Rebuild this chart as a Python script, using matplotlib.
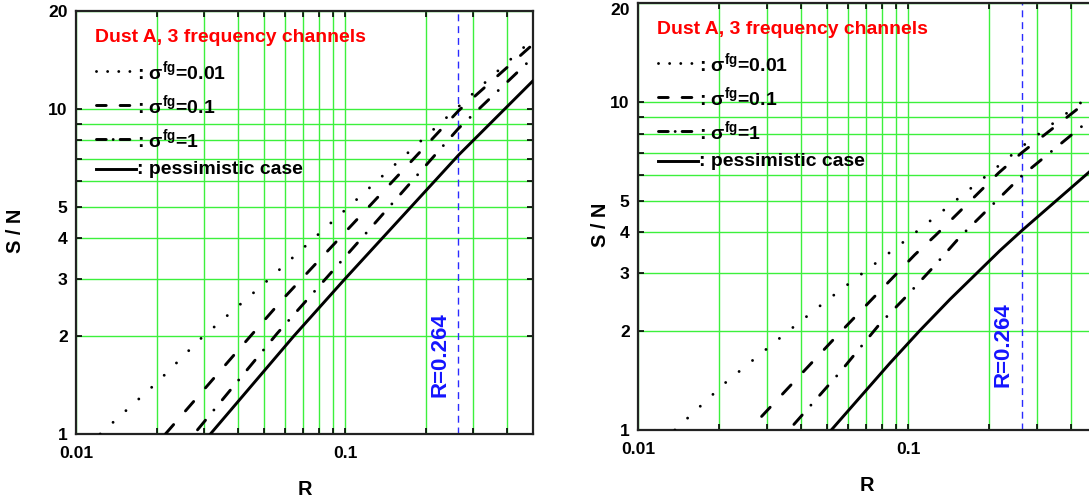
import matplotlib
matplotlib.use("Agg")
import matplotlib.pyplot as plt
from matplotlib import font_manager
from matplotlib.ticker import FixedFormatter, FixedLocator, NullFormatter

# %% data: (R, S/N) for each curve
# left panel
r_dot_a = [0.0123, 0.02, 0.029, 0.05, 0.106, 0.264, 0.5]
sn_dot_a = [1.0, 1.44, 1.96, 2.9, 5.1, 10.15, 16.4]
r_dash_a = [0.0215, 0.041, 0.059, 0.1035, 0.264, 0.5]
sn_dash_a = [1.0, 1.85, 2.61, 4.3, 9.86, 15.8]
r_dd_a = [0.0283, 0.056, 0.103, 0.264, 0.5]
sn_dd_a = [1.03, 2.04, 3.6, 8.7, 14.4]
r_sol_a = [0.0316, 0.0645, 0.1, 0.264, 0.5]
sn_sol_a = [1.0, 2.0, 3.0, 7.2, 12.2]

# right panel
r_dot_b = [0.0137, 0.021, 0.036, 0.05, 0.095, 0.131, 0.204, 0.264, 0.434, 0.5]
sn_dot_b = [1.0, 1.39, 2.0, 2.48, 3.71, 4.57, 6.13, 7.3, 9.9, 10.7]
r_dash_b = [0.0287, 0.0537, 0.0738, 0.106, 0.1266, 0.217, 0.264, 0.459, 0.5]
sn_dash_b = [1.1, 1.91, 2.51, 3.42, 3.92, 6.08, 7.0, 10.0, 10.6]
r_dd_b = [0.0378, 0.056, 0.0788, 0.098, 0.123, 0.156, 0.264, 0.468, 0.5]
sn_dd_b = [1.04, 1.5, 2.11, 2.54, 3.11, 3.88, 5.95, 8.77, 9.2]
r_sol_b = [0.052, 0.0858, 0.1107, 0.143, 0.219, 0.264, 0.468, 0.5]
sn_sol_b = [1.0, 1.6, 2.01, 2.5, 3.52, 4.05, 6.1, 6.4]

r_mark = 0.264
title = "Dust A, 3 frequency channels"
labels = [
    r": $\sigma^{\mathbf{fg}}$=0.01",
    r": $\sigma^{\mathbf{fg}}$=0.1",
    r": $\sigma^{\mathbf{fg}}$=1",
    ": pessimistic case",
]
x_major = [0.01, 0.1]
x_major_labels = ["0.01", "0.1"]
x_minor = [0.02, 0.03, 0.04, 0.05, 0.06, 0.07, 0.08, 0.09, 0.2, 0.3, 0.4]
y_major = [1, 2, 3, 4, 5, 10, 20]
y_major_labels = ["1", "2", "3", "4", "5", "10", "20"]
y_minor = [6, 7, 8, 9]

# %% fonts (the original uses a narrow bold face)
names = {f.name for f in font_manager.fontManager.ttflist}
if "Liberation Sans Narrow" in names:
    family, k = "Liberation Sans Narrow", 1.0
else:
    family, k = "Liberation Sans", 0.9
plt.rcParams["font.family"] = [family, "DejaVu Sans"]
plt.rcParams["font.weight"] = "bold"
plt.rcParams["mathtext.fontset"] = "custom"
plt.rcParams["mathtext.rm"] = family
plt.rcParams["mathtext.it"] = family
plt.rcParams["mathtext.bf"] = family + ":bold"
plt.rcParams["mathtext.default"] = "regular"
plt.rcParams["lines.scale_dashes"] = False

W, H = 1089, 501
fig = plt.figure(figsize=(W / 100, H / 100), dpi=100)
fig.patch.set_facecolor("white")

# axes placed in pixels; right panel runs past the picture edge (cropped original)
ax_a = fig.add_axes([76 / W, 1 - 434 / H, 457 / W, 423 / H])
ax_b = fig.add_axes([638 / W, 1 - 430 / H, 458.7 / W, 427 / H])

curve_styles = [
    (0, (0.01, 12.5)),
    (0, (9, 13)),
    (0, (9, 9.5, 0.01, 9.5)),
    "-",
]
key_styles = [
    (0, (0.01, 8)),
    (0, (7, 10)),
    (0, (7, 5, 0.01, 5)),
    "-",
]


def draw_panel(ax, curves, text_yfrac, ylab_x, xlab_y):
    for (r, sn), ls in zip(curves, curve_styles):
        ax.plot(r, sn, color="k", lw=2.1, linestyle=ls, dash_capstyle="round", zorder=3)

    ax.set_xscale("log")
    ax.set_yscale("log")
    ax.set_xlim(0.01, 0.5)
    ax.set_ylim(1, 20)
    ax.xaxis.set_major_locator(FixedLocator(x_major))
    ax.xaxis.set_major_formatter(FixedFormatter(x_major_labels))
    ax.xaxis.set_minor_locator(FixedLocator(x_minor))
    ax.xaxis.set_minor_formatter(NullFormatter())
    ax.yaxis.set_major_locator(FixedLocator(y_major))
    ax.yaxis.set_major_formatter(FixedFormatter(y_major_labels))
    ax.yaxis.set_minor_locator(FixedLocator(y_minor))
    ax.yaxis.set_minor_formatter(NullFormatter())

    ax.grid(True, which="both", color="#3cf03c", lw=1.0)
    ax.set_axisbelow(True)
    ax.tick_params(which="both", direction="in", top=True, right=True, width=1.2, length=4,
                   labelsize=14 * k)
    ax.tick_params(axis="x", which="both", pad=9)
    ax.tick_params(axis="y", which="both", pad=6)
    for sp in ax.spines.values():
        sp.set_linewidth(1.6)
        sp.set_color("#222222")

    ax.set_xlabel("R", fontsize=16 * k, fontweight="bold")
    ax.set_ylabel("S / N", fontsize=16 * k, fontweight="bold")
    ax.xaxis.set_label_coords(0.5, xlab_y)
    ax.yaxis.set_label_coords(ylab_x, 0.48)

    # marked value of R
    ax.axvline(r_mark, color="#2a2aff", lw=1, linestyle=(0, (5, 3.5)), zorder=2)
    ax.annotate("R=0.264", xy=(r_mark, text_yfrac), xycoords=("data", "axes fraction"),
                xytext=(-6, 0), textcoords="offset points", rotation=90, ha="right",
                va="center", color="#1414ff", fontsize=16, family="Liberation Sans")

    # hand-made key, positions in pixels from the top-left corner of the axes
    bb = ax.get_position()
    wpx, hpx = bb.width * W, bb.height * H

    def fx(px):
        return px / wpx

    def fy(py):
        return 1 - py / hpx

    ax.text(fx(19), fy(27), title, color="red", fontsize=15.5 * k, ha="left", va="center",
            transform=ax.transAxes)
    for yy, ls, lab in zip([60, 94, 128, 158], key_styles, labels):
        ax.plot([fx(20), fx(60)], [fy(yy), fy(yy)], color="k", lw=2.1, linestyle=ls,
                dash_capstyle="round", transform=ax.transAxes, clip_on=False)
        ax.text(fx(61), fy(yy), lab, color="k", fontsize=15.5 * k, ha="left", va="center",
                transform=ax.transAxes)


draw_panel(
    ax_a,
    [(r_dot_a, sn_dot_a), (r_dash_a, sn_dash_a), (r_dd_a, sn_dd_a), (r_sol_a, sn_sol_a)],
    0.187, -0.112, -0.108,
)
draw_panel(
    ax_b,
    [(r_dot_b, sn_dot_b), (r_dash_b, sn_dash_b), (r_dd_b, sn_dd_b), (r_sol_b, sn_sol_b)],
    0.201, -0.061, -0.108,
)

# top label of the right panel sits just inside the picture
ax_b.yaxis.get_major_ticks()[-1].label1.set_verticalalignment("top")

fig.savefig("out.png", dpi=100, facecolor="white")
